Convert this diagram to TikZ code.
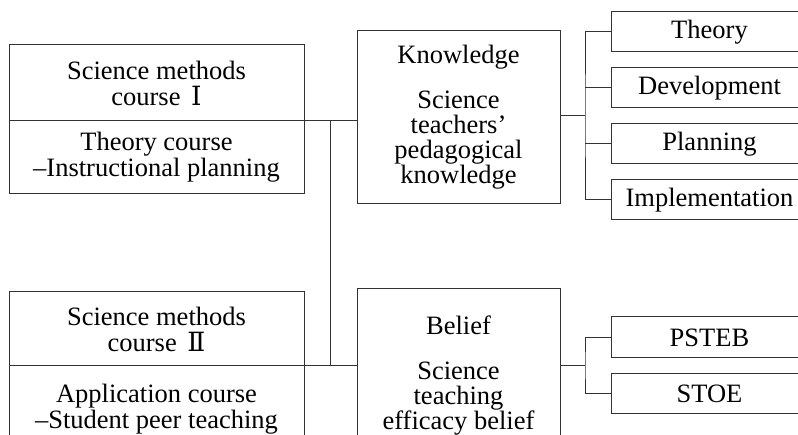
\documentclass[tikz,border=0pt]{standalone}
\usepackage{fontspec}
\setmainfont{Liberation Serif}
\newfontfamily\numfont{DejaVu Serif}
\usetikzlibrary{positioning, calc}
\tikzset{
    course/.style={rectangle, draw=black!80, line width=1pt, outer sep=0pt, inner sep=2pt, minimum width=295pt, align=center, font=\fontsize{26.5}{26}\selectfont},
    outcome/.style={rectangle, draw=black!80, line width=1pt, outer sep=0pt, inner sep=2pt, minimum width=203pt, minimum height=173pt, align=center, font=\fontsize{26.5}{25}\selectfont},
    part/.style={rectangle, draw=black!80, line width=1pt, outer sep=0pt, inner sep=2pt, minimum width=197pt, minimum height=40pt, font=\fontsize{26.5}{26}\selectfont},
    link/.style={draw=black!80, line width=1pt}
}
\begin{document}
\begin{tikzpicture}[x=1pt, y=-1pt, node distance=16pt]
        \useasboundingbox (0,0) rectangle (798,435);
        \clip (0,0) rectangle (798,435);

        % methods courses
        \node [course, minimum height=76pt, anchor=north west] (c1top) at (9,45) {Science methods\\course\hspace{.4em}{\numfont Ⅰ}};
        \node [course, minimum height=73pt, below=0pt of c1top] (c1bot) {Theory course\\–Instructional planning};
        \node [course, minimum height=74pt, anchor=north west] (c2top) at (9,292) {Science methods\\course\hspace{.4em}{\numfont Ⅱ}};
        \node [course, minimum height=86pt, below=0pt of c2top] (c2bot) {Application course\\–Student peer teaching};

        % knowledge and belief
        \node [outcome, anchor=north west] (know) at (357,31) {Knowledge\\[20pt]Science\\teachers’\\pedagogical\\knowledge};
        \node [outcome, below=85pt of know] (belief) {Belief\\[20pt]Science\\teaching\\efficacy belief};

        % components
        \node [part, anchor=north west] (theory) at (611,12) {Theory};
        \node [part, below=of theory] (devel) {Development};
        \node [part, below=of devel] (plan) {Planning};
        \node [part, below=of plan] (impl) {Implementation};
        \node [part, minimum height=41pt, anchor=north west] (psteb) at (611,317) {PSTEB};
        \node [part, below=of psteb] (stoe) {STOE};

        \coordinate (cjoint) at ($(c1top.south east)+(26,0)$);
        \coordinate (kjoint) at ($(theory.west)!.5!(impl.west)+(-26,0)$);
        \coordinate (bjoint) at ($(psteb.west)!.5!(stoe.west)+(-26,0)$);

        % Draws
        \draw [link] (c1top.south east) -- (c1top.south east -| know.west);
        \draw [link] (c2top.south east) -- (c2top.south east -| belief.west);
        \draw [link] (cjoint) -- (cjoint |- c2top.south);
        \draw [link] (know.east |- kjoint) -- (kjoint);
        \draw [link] (theory.west) -| (kjoint) |- (impl.west);
        \draw [link] (devel.west) -- (devel.west -| kjoint);
        \draw [link] (plan.west) -- (plan.west -| kjoint);
        \draw [link] (belief.east |- bjoint) -- (bjoint);
        \draw [link] (psteb.west) -| (bjoint) |- (stoe.west);

    \end{tikzpicture}
\end{document}
